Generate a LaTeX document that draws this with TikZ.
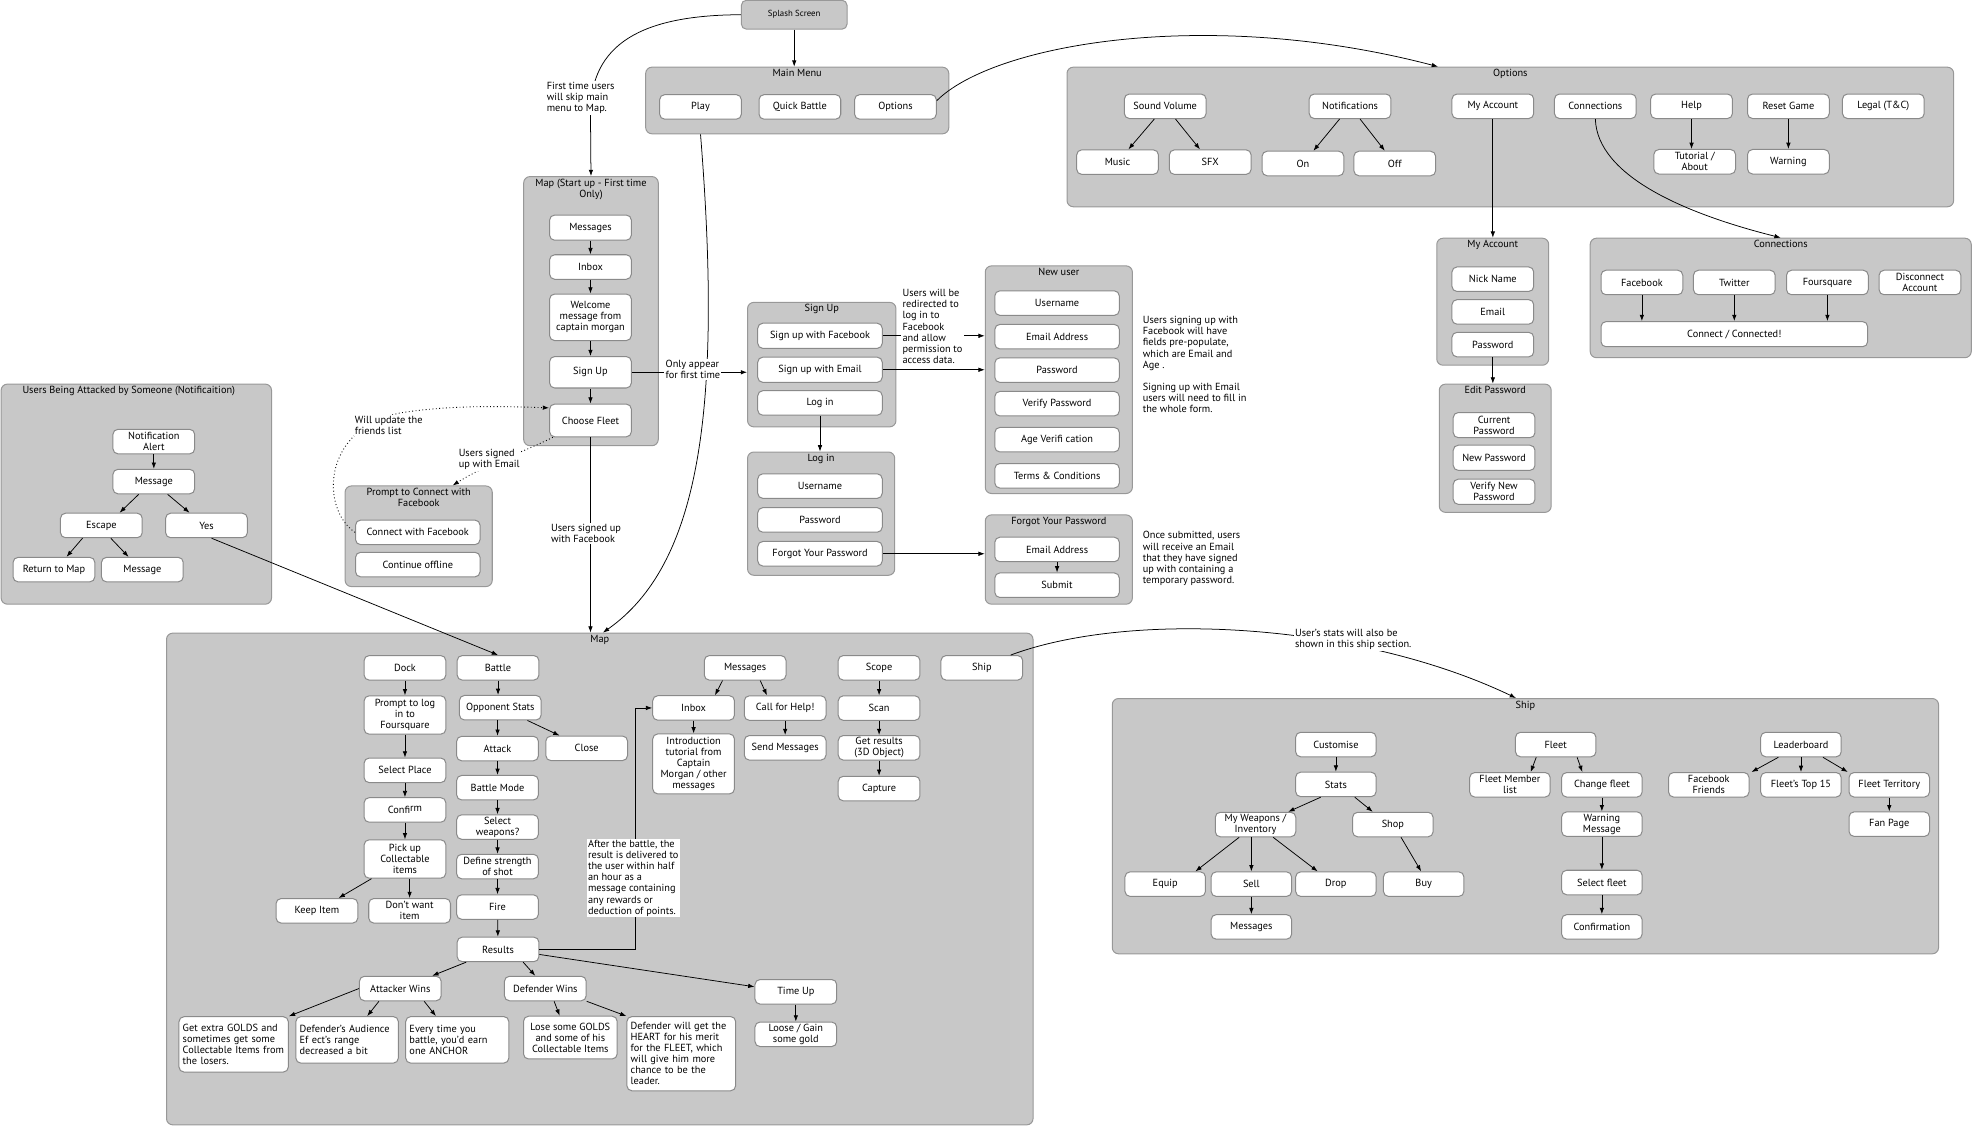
\documentclass[tikz,border=0pt]{standalone}
\usepackage{fontspec}
\setmainfont{PT Sans}
\usetikzlibrary{arrows.meta}
\definecolor{panel}{HTML}{C8C8C8}
\definecolor{panelline}{HTML}{989898}
\definecolor{boxline}{HTML}{8A8A8A}
\tikzset{
	grp/.style={draw=panelline, fill=panel, rounded corners=5pt, line width=0.8pt, anchor=north west, inner sep=0pt},
	ttl/.style={anchor=north, inner sep=2pt, align=center},
	btn/.style={draw=boxline, fill=white, rounded corners=4pt, line width=0.8pt, minimum width=65pt, minimum height=19.5pt, inner sep=1pt, align=center},
	txtbox/.style={btn, align=left, inner sep=3pt},
	note/.style={fill=white, inner sep=1pt, align=left},
	link/.style={->, line width=0.6pt},
	hint/.style={->, line width=0.7pt, dotted}
}
\begin{document}
\begin{tikzpicture}[x=1pt, y=-1pt, font=\fontsize{8.2}{8.8}\selectfont, >={Latex[length=5pt,width=3.6pt]}]
	\useasboundingbox (0,0) rectangle (1568,895.3);

	\node[grp, minimum width=241pt, minimum height=53pt, label={[ttl]north:Main Menu}] (mainmenu) at (513,53) {};
	\node[grp, minimum width=107pt, minimum height=214pt, label={[ttl]north:{Map (Start up - First time\\Only)}}] (startmap) at (416,140) {};
	\node[grp, minimum width=215pt, minimum height=175pt, label={[ttl, xshift=-6pt]north:Users Being Attacked by Someone (Notificaition)}] (attacked) at (0.5,305) {};
	\node[grp, minimum width=117pt, minimum height=80pt, label={[ttl]north:{Prompt to Connect with\\Facebook}}] (prompt) at (274,386) {};
	\node[grp, minimum width=118pt, minimum height=99pt, label={[ttl]north:Sign Up}] (signup) at (594,240) {};
	\node[grp, minimum width=117pt, minimum height=98pt, label={[ttl]north:Log in}] (login) at (594,359) {};
	\node[grp, minimum width=117pt, minimum height=181pt, label={[ttl]north:New user}] (newuser) at (783,211) {};
	\node[grp, minimum width=117pt, minimum height=71pt, label={[ttl]north:Forgot Your Password}] (forgot) at (783,409) {};
	\node[grp, minimum width=705pt, minimum height=111pt, label={[ttl]north:Options}] (options) at (848,53) {};
	\node[grp, minimum width=89pt, minimum height=101pt, label={[ttl]north:My Account}] (myaccount) at (1142,189) {};
	\node[grp, minimum width=89pt, minimum height=102pt, label={[ttl]north:Edit Password}] (editpw) at (1144,305) {};
	\node[grp, minimum width=303pt, minimum height=95pt, label={[ttl]north:Connections}] (connections) at (1264,189) {};
	\node[grp, minimum width=689pt, minimum height=391pt, label={[ttl]north:Map}] (map) at (132,503) {};
	\node[grp, minimum width=657pt, minimum height=203pt, label={[ttl]north:Ship}] (ship) at (884,555) {};

	\node[btn, fill=panel, draw=panelline, minimum width=84pt, minimum height=23pt, font=\fontsize{7}{8}\selectfont] (splash) at (631.5,11.7) {Splash Screen};

	\node[btn] (play) at (557,85) {Play};
	\node[btn] (quickbattle) at (636,85) {Quick Battle};
	\node[btn] (optionsbtn) at (712,85) {Options};

	\node[btn, minimum height=20pt] (smmessages) at (469.5,181) {Messages};
	\node[btn] (sminbox) at (469.5,212.3) {Inbox};
	\node[btn, minimum height=37pt] (smwelcome) at (469.5,252.3) {Welcome\\message from\\captain morgan};
	\node[btn, minimum height=25pt] (smsignup) at (469.5,296) {Sign Up};
	\node[btn, minimum height=26pt] (smfleet) at (469.5,334.3) {Choose Fleet};

	\node[btn] (alert) at (122.3,351.1) {Notification\\Alert};
	\node[btn] (atmessage) at (122.3,382.9) {Message};
	\node[btn] (escape) at (80.6,417.8) {Escape};
	\node[btn] (yes) at (164.2,417.8) {Yes};
	\node[btn] (returnmap) at (42.9,452.9) {Return to Map};
	\node[btn] (escmessage) at (113.2,452.9) {Message};

	\node[btn, minimum width=99pt] (connectfb) at (332.2,423.3) {Connect with Facebook};
	\node[btn, minimum width=99pt] (offline) at (332.2,448.9) {Continue offline};

	\node[btn, minimum width=99pt, minimum height=20pt] (signfb) at (652,267) {Sign up with Facebook};
	\node[btn, minimum width=99pt, minimum height=20pt] (signemail) at (652,294) {Sign up with Email};
	\node[btn, minimum width=99pt] (loginbtn) at (652,320.4) {Log in};

	\node[btn, minimum width=99pt] (liuser) at (652,386.5) {Username};
	\node[btn, minimum width=99pt] (lipass) at (652,413.4) {Password};
	\node[btn, minimum width=99pt] (liforgot) at (652,440.3) {Forgot Your Password};

	\node[btn, minimum width=99pt] (nuuser) at (840.5,241) {Username};
	\node[btn, minimum width=99pt] (nuemail) at (840.5,267.7) {Email Address};
	\node[btn, minimum width=99pt] (nupass) at (840.5,294.3) {Password};
	\node[btn, minimum width=99pt] (nuverify) at (840.5,321) {Verify Password};
	\node[btn, minimum width=99pt] (nuage) at (840.5,349.6) {Age Verifi cation};
	\node[btn, minimum width=99pt] (nuterms) at (840.5,378.3) {Terms \& Conditions};

	\node[btn, minimum width=99pt] (fpemail) at (840.5,436.9) {Email Address};
	\node[btn, minimum width=99pt] (fpsubmit) at (840.5,465.3) {Submit};

	\node[btn] (sound) at (926.5,84.5) {Sound Volume};
	\node[btn] (notif) at (1073.5,84.5) {Notifications};
	\node[btn] (account) at (1187,84.5) {My Account};
	\node[btn] (connbtn) at (1268.5,84.5) {Connections};
	\node[btn] (help) at (1345,84.5) {Help};
	\node[btn] (reset) at (1422,84.5) {Reset Game};
	\node[btn] (legal) at (1497.5,84.5) {Legal (T\&C)};
	\node[btn] (music) at (888.6,128.9) {Music};
	\node[btn] (sfx) at (962.3,128.9) {SFX};
	\node[btn] (notifon) at (1036,130) {On};
	\node[btn] (notifoff) at (1109,130) {Off};
	\node[btn] (tutorial) at (1347.5,128.6) {Tutorial /\\About};
	\node[btn] (warning) at (1422,128.6) {Warning};

	\node[btn] (nick) at (1187,222) {Nick Name};
	\node[btn] (email) at (1187,248) {Email};
	\node[btn] (password) at (1187,274) {Password};

	\node[btn, minimum height=20pt] (curpw) at (1188,338) {Current\\Password};
	\node[btn, minimum height=20pt] (newpw) at (1188,364) {New Password};
	\node[btn, minimum height=20pt] (verpw) at (1188,391) {Verify New\\Password};

	\node[btn] (cfacebook) at (1305.5,224.6) {Facebook};
	\node[btn] (ctwitter) at (1379,224.6) {Twitter};
	\node[btn] (cfoursquare) at (1453,224.6) {Foursquare};
	\node[btn] (disconnect) at (1526.6,224.6) {Disconnect\\Account};
	\node[btn, minimum width=212pt, minimum height=20pt] (connect) at (1379,265.7) {Connect / Connected!};

	\node[btn] (dock) at (322,531) {Dock};
	\node[btn] (battle) at (396,531) {Battle};
	\node[btn, minimum height=30.5pt] (foursq) at (322,568.5) {Prompt to log\\in to\\Foursquare};
	\node[btn] (oppstats) at (397.8,562.7) {Opponent Stats};
	\node[btn] (attack) at (395.6,595.2) {Attack};
	\node[btn] (close) at (466.5,595) {Close};
	\node[btn] (place) at (322,612.5) {Select Place};
	\node[btn] (mode) at (395.6,626.3) {Battle Mode};
	\node[btn] (confirm) at (322,644) {Confi\raisebox{2pt}{rm}};
	\node[btn] (weapons) at (395.6,657.6) {Select\\weapons?};
	\node[btn, minimum height=30.5pt] (pickup) at (322,683) {Pick up\\Collectable\\items};
	\node[btn] (strength) at (395.6,689) {Define strength\\of shot};
	\node[btn] (keep) at (252,724.2) {Keep Item};
	\node[btn] (dontwant) at (325.7,724.2) {Don't want\\item};
	\node[btn] (fire) at (395.6,721.2) {Fire};
	\node[btn] (results) at (396,754.9) {Results};
	\node[btn] (attacker) at (318.3,786) {Attacker Wins};
	\node[btn] (defender) at (433.6,786) {Defender Wins};
	\node[btn] (timeup) at (632.8,788.6) {Time Up};
	\node[btn] (loosegain) at (632.8,822.4) {Loose / Gain\\some gold};
	\node[txtbox, text width=81pt, minimum height=44pt] (goldbox) at (185.8,830.4) {Get extra GOLDS and\\sometimes get some\\Collectable Items from\\the losers.};
	\node[txtbox, text width=75.5pt, minimum height=37pt] (audiencebox) at (276,826.8) {Defender's Audience\\Ef ect's range\\decreased a bit};
	\node[txtbox, text width=76pt, minimum height=37pt] (earnbox) at (363.6,826.8) {Every time you\\battle, you'd earn\\one ANCHOR};
	\node[btn, minimum width=74.5pt, minimum height=34pt] (losebox) at (453.5,825) {Lose some GOLDS\\and some of his\\Collectable Items};
	\node[txtbox, text width=80.5pt, minimum height=59pt] (heartbox) at (541.7,837.8) {Defender will get the\\HEART for his merit\\for the FLEET, which\\will give him more\\chance to be the\\leader.};
	\node[btn] (mmessages) at (592.5,531) {Messages};
	\node[btn] (minbox) at (551.5,562.9) {Inbox};
	\node[btn] (callhelp) at (624.3,563) {Call for Help!};
	\node[btn, minimum height=47.7pt] (intro) at (551.5,607.4) {Introduction\\tutorial from\\Captain\\Morgan / other\\messages};
	\node[btn] (sendmsg) at (624.3,594.6) {Send Messages};
	\node[btn] (scope) at (699,531) {Scope};
	\node[btn] (scan) at (699,563) {Scan};
	\node[btn] (getresults) at (699,594.6) {Get results\\(3D Object)};
	\node[btn] (capture) at (699,627) {Capture};
	\node[btn] (shipbtn) at (780.7,531) {Ship};

	\node[btn, minimum width=64pt] (customise) at (1062.2,592) {Customise};
	\node[btn, minimum width=64pt] (stats) at (1062.2,623.7) {Stats};
	\node[btn, minimum width=64pt] (weaponsinv) at (998.3,655.6) {My Weapons /\\Inventory};
	\node[btn, minimum width=64pt] (shop) at (1107.5,655.6) {Shop};
	\node[btn, minimum width=64pt] (equip) at (926.5,703) {Equip};
	\node[btn, minimum width=64pt] (sell) at (995,703) {Sell};
	\node[btn, minimum width=64pt] (drop) at (1062.2,703) {Drop};
	\node[btn, minimum width=64pt] (buy) at (1132,703) {Buy};
	\node[btn, minimum width=64pt] (shipmsg) at (995,737) {Messages};
	\node[btn, minimum width=64pt] (fleet) at (1237,592) {Fleet};
	\node[btn, minimum width=64pt] (memberlist) at (1200.6,624) {Fleet Member\\list};
	\node[btn, minimum width=64pt] (changefleet) at (1273.7,624) {Change fleet};
	\node[btn, minimum width=64pt] (warnmsg) at (1273.7,655.3) {Warning\\Message};
	\node[btn, minimum width=64pt] (selectfleet) at (1273.7,701.7) {Select fleet};
	\node[btn, minimum width=64pt] (confirmation) at (1273.7,737) {Confirmation};
	\node[btn, minimum width=64pt] (leaderboard) at (1432,592) {Leaderboard};
	\node[btn, minimum width=64pt] (fbfriends) at (1358.7,624) {Facebook\\Friends};
	\node[btn, minimum width=64pt] (top15) at (1432,624) {Fleet's Top 15};
	\node[btn, minimum width=64pt] (territory) at (1502.2,624) {Fleet Territory};
	\node[btn, minimum width=64pt] (fanpage) at (1502.2,655.3) {Fan Page};

	\path[link] (splash) edge (splash |- mainmenu.north);
	\draw[link] (splash.west) .. controls (510,12) and (469.5,35) .. (469.5,90) -- (startmap.north);
	\draw[link] (play |- mainmenu.south) .. controls (575,330) and (555,450) .. ([xshift=2.5pt]map.north);
	\draw[link] ([yshift=5pt]optionsbtn.east) .. controls (790,35) and (960,5) .. ([xshift=-57.5pt]options.north);

	\path[link] (smmessages) edge (sminbox);
	\path[link] (sminbox) edge (smwelcome);
	\path[link] (smwelcome) edge (smsignup);
	\path[link] (smsignup) edge (smfleet);
	\path[link] (smsignup.east) edge (smsignup.east -| signup.west);
	\path[link] (smfleet) edge (smfleet |- map.north);
	\draw[hint] ([xshift=3pt]smfleet.south west) .. controls (415,360) and (385,370) .. ([xshift=27pt]prompt.north);
	\draw[hint] (connectfb.west) .. controls (255,405) and (255,340) .. (320,328) .. controls (360,322) and (400,323) .. ([yshift=10pt]smfleet.west);

	\path[link] (alert) edge (atmessage);
	\path[link] ([xshift=-12pt]atmessage.south) edge ([xshift=14.5pt]escape.north);
	\path[link] ([xshift=11pt]atmessage.south) edge ([xshift=-13.5pt]yes.north);
	\path[link] ([xshift=-15pt]escape.south) edge ([xshift=10pt]returnmap.north);
	\path[link] ([xshift=7.5pt]escape.south) edge ([xshift=-11pt]escmessage.north);
	\path[link] ([xshift=4pt]yes.south) edge (battle.north);

	\path[link] (signfb.east) edge (signfb.east -| newuser.west);
	\path[link] (signemail.east) edge (signemail.east -| newuser.west);
	\path[link] (loginbtn) edge (loginbtn |- login.north);
	\path[link] (liforgot.east) edge (liforgot.east -| forgot.west);
	\path[link] (fpemail) edge (fpsubmit);

	\path[link] (sound) edge (music);
	\path[link] (sound) edge (sfx);
	\path[link] (notif) edge (notifon);
	\path[link] (notif) edge (notifoff);
	\path[link] (help) edge (help |- tutorial.north);
	\path[link] (reset) edge (warning);
	\path[link] (account) edge (account |- myaccount.north);
	\draw[link] (connbtn.south) .. controls (1270,140) and (1340,170) .. (connections.north);
	\path[link] (password) edge (password |- editpw.north);
	\path[link] (cfacebook) edge (cfacebook |- connect.north);
	\path[link] (ctwitter) edge (ctwitter |- connect.north);
	\path[link] (cfoursquare) edge (cfoursquare |- connect.north);

	\path[link] (dock) edge (foursq);
	\path[link] (foursq) edge (place);
	\path[link] (place) edge (confirm);
	\path[link] (confirm) edge (pickup);
	\path[link] (pickup) edge (keep);
	\path[link] (dontwant |- pickup.south) edge (dontwant);
	\path[link] (battle) edge (battle |- oppstats.north);
	\path[link] (attack |- oppstats.south) edge (attack);
	\path[link] (oppstats) edge (close);
	\path[link] (attack) edge (mode);
	\path[link] (mode) edge (weapons);
	\path[link] (weapons) edge (strength);
	\path[link] (strength) edge (fire);
	\path[link] (fire) edge (results);
	\path[link] (results) edge (attacker);
	\path[link] ([xshift=20pt]results.south) edge ([xshift=-8pt]defender.north);
	\path[link] ([yshift=-4pt]results.east) edge ([yshift=4pt]timeup.west);
	\draw[link] (results.east) -- ++(76.2,0) |- (minbox.west);
	\path[link] (attacker.west) edge (goldbox.north east);
	\path[link] ([xshift=-17pt]attacker.south) edge ([xshift=16pt]audiencebox.north);
	\path[link] ([xshift=19pt]attacker.south) edge ([xshift=-17pt]earnbox.north);
	\path[link] ([xshift=7pt]defender.south) edge ([xshift=-8.5pt]losebox.north);
	\path[link] (defender.south east) edge (heartbox.north west);
	\path[link] (timeup) edge (loosegain);
	\path[link] ([xshift=-18pt]mmessages.south) edge ([xshift=17pt]minbox.north);
	\path[link] ([xshift=12pt]mmessages.south) edge ([xshift=-14.5pt]callhelp.north);
	\path[link] (minbox) edge (intro);
	\path[link] (callhelp) edge (sendmsg);
	\path[link] (scope) edge (scan);
	\path[link] (scan) edge (getresults);
	\path[link] (getresults) edge (capture);
	\draw[link] ([xshift=-10pt]shipbtn.north east) .. controls (900,485) and (1080,495) .. ([xshift=-7.5pt]ship.north);

	\path[link] (customise) edge (stats);
	\path[link] ([xshift=-12pt]stats.south) edge ([xshift=26pt]weaponsinv.north);
	\path[link] ([xshift=15pt]stats.south) edge ([xshift=-16pt]shop.north);
	\path[link] ([xshift=-13pt]weaponsinv.south) edge ([xshift=24pt]equip.north);
	\path[link] (sell |- weaponsinv.south) edge (sell);
	\path[link] ([xshift=14pt]weaponsinv.south) edge ([xshift=-14.5pt]drop.north);
	\path[link] ([xshift=6.5pt]shop.south) edge ([xshift=-2pt]buy.north);
	\path[link] (sell) edge (shipmsg);
	\path[link] ([xshift=-15.5pt]fleet.south) edge ([xshift=16.5pt]memberlist.north);
	\path[link] ([xshift=17pt]fleet.south) edge ([xshift=-15.5pt]changefleet.north);
	\path[link] (changefleet) edge (warnmsg);
	\path[link] (warnmsg) edge (selectfleet);
	\path[link] (selectfleet) edge (confirmation);
	\path[link] ([xshift=-18pt]leaderboard.south) edge ([xshift=34pt]fbfriends.north);
	\path[link] (leaderboard) edge (top15);
	\path[link] ([xshift=17.5pt]leaderboard.south) edge ([xshift=-33pt]territory.north);
	\path[link] (territory) edge (fanpage);

	\node[note] (firstnote) at (461.7,78) {First time users\\will skip main\\menu to Map.};
	\node[note] (onlynote) at (551,294) {Only appear\\for first time};
	\node[note, anchor=north west] (redirnote) at (716.5,229) {Users will be\\redirected to\\log in to\\Facebook\\and allow\\permission to\\access data.};
	\node[note] (fbsignnote) at (466,424.3) {Users signed up\\with Facebook};
	\node[note] (emailnote) at (389,365) {Users signed\\up with Email};
	\node[note, anchor=west] (friendsnote) at (281,338.5) {Will update the\\friends list};
	\node[note, anchor=north west] (newusernote) at (907.5,250.5) {Users signing up with\\Facebook will have\\fields pre-populate,\\which are Email and\\Age .\\[8.8pt]Signing up with Email\\users will need to fill in\\the whole form.};
	\node[note, anchor=north west] (forgotnote) at (907.5,421.5) {Once submitted, users\\will receive an Email\\that they have signed\\up with containing a\\temporary password.};
	\node[note] (shipnote) at (1076,508.5) {User's stats will also be\\shown in this ship section.};
	\node[note, anchor=north west] (battlenote) at (466.4,667) {After the battle, the\\result is delivered to\\the user within half\\an hour as a\\message containing\\any rewards or\\deduction of points.};
\end{tikzpicture}
\end{document}
